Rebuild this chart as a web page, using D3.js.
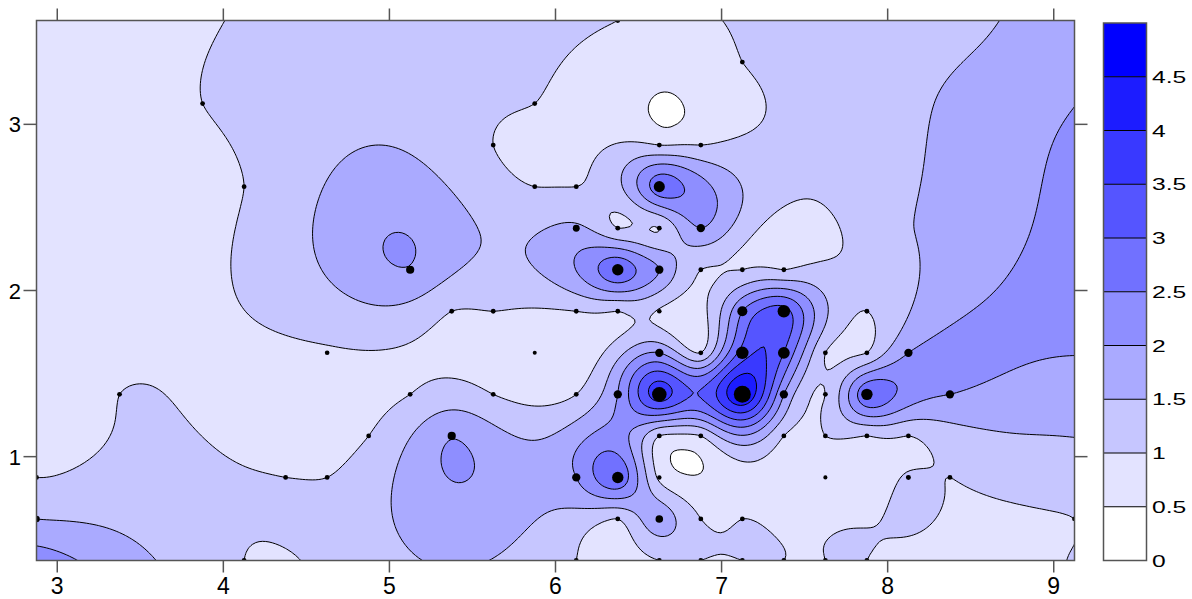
<!DOCTYPE html>
<html><head><meta charset="utf-8">
<script src="https://cdn.jsdelivr.net/npm/d3@7"></script>
<style>body{margin:0;background:#fff}svg{display:block}text{font-family:"Liberation Sans",Arial,sans-serif;fill:#000}</style>
</head><body><svg id="c" width="1192" height="599"></svg>
<script>
// sample point positions and values (drawn as dots)
const ptX = [6.375,
 7.125,
 3.875,5.875,
 5.625,6.625,6.875,
 4.125,5.875,6.125,6.625,
 6.125,6.375,6.625,6.875,
 5.125,6.375,6.625,6.875,7.125,7.375,
 5.375,5.625,6.125,6.375,6.625,7.125,7.375,7.875,
 4.625,5.875,6.625,6.875,7.125,7.375,7.625,7.875,8.125,
 3.375,5.125,5.625,6.125,6.375,6.625,7.125,7.375,7.625,7.875,8.375,
 4.875,5.375,6.625,6.875,7.375,7.625,7.875,8.125,
 2.875,4.375,4.625,6.125,6.375,6.625,7.625,8.125,8.375,
 2.875,6.375,6.625,6.875,7.125,9.125,
 4.125,6.125,6.625,6.875,7.125,7.375,7.625,7.875];
const ptY = [3.625,
 3.375,
 3.125,3.125,
 2.875,2.875,2.875,
 2.625,2.625,2.625,2.625,
 2.375,2.375,2.375,2.375,
 2.125,2.125,2.125,2.125,2.125,2.125,
 1.875,1.875,1.875,1.875,1.875,1.875,1.875,1.875,
 1.625,1.625,1.625,1.625,1.625,1.625,1.625,1.625,1.625,
 1.375,1.375,1.375,1.375,1.375,1.375,1.375,1.375,1.375,1.375,1.375,
 1.125,1.125,1.125,1.125,1.125,1.125,1.125,1.125,
 0.875,0.875,0.875,0.875,0.875,0.875,0.875,0.875,0.875,
 0.625,0.625,0.625,0.625,0.625,0.625,
 0.375,0.375,0.375,0.375,0.375,0.375,0.375,0.375];
const ptV = [1.0,
 1.0,
 1.0,1.0,
 1.0,1.0,1.0,
 1.0,1.0,1.0,2.8,
 1.6,1.0,1.0,2.0,
 1.97,2.9,2.0,1.0,1.0,1.0,
 1.0,1.0,1.0,1.0,0.95,2.5,3.2,1.0,
 0.95,0.58,2.0,1.0,3.2,3.0,1.0,1.0,2.0,
 1.0,1.0,1.0,1.0,2.0,3.8,4.5,2.0,1.0,2.9,2.0,
 1.0,1.97,1.0,1.0,1.0,1.0,1.0,1.0,
 1.0,1.0,1.0,2.0,2.9,0.9,0.8,1.05,1.0,
 1.5,1.0,1.8,1.0,1.0,1.0,
 1.0,1.0,1.0,1.0,1.0,1.0,1.0,1.0];
// surface values in areas without sample dots (not drawn)
const ctlX = [7.5, 8.0, 8.5, 9.125, 9.125, 9.125, 9.125, 8.625, 8.375, 7.625, 7.875, 8.125, 7.5, 7.79, 8.75, 9.125, 8.75, 3.375, 2.875,
              4.25, 4.375, 4.25, 6.66, 6.45, 6.87, 6.66, 6.66, 7.375, 7.875, 9.125, 6.77, 7.75];
const ctlY = [3.625,3.625,3.625,3.625, 2.875, 2.125, 1.375, 2.375, 3.125, 2.875, 3.375, 2.375, 2.35, 1.71, 0.5, 0.375, 1.0, 3.625, 0.375,
              3.625, 0.625, 0.375, 3.13, 3.15, 3.12, 3.34, 2.93, 2.625, 2.25, 1.0, 0.99, 0.39];
const ctlV = [1.12, 1.3, 1.42, 1.75, 2.1, 2.3, 1.75, 1.75, 1.55, 1.12, 1.28, 1.47, 0.85, 0.88, 0.9, 1.02, 1.3, 0.85, 2.25,
              1.05, 1.15, 0.9, 0.46, 0.62, 0.62, 0.62, 0.65, 1.1, 1.12, 1.38, 0.44, 1.08];

const levels = [0.5,1,1.5,2,2.5,3,3.5,4,4.5];
const barBins = [0,0.5,1,1.5,2,2.5,3,3.5,4,4.5];
const barLabels = ["0","0.5","1","1.5","2","2.5","3","3.5","4","4.5"];
const xTicks = [3,4,5,6,7,8,9];
const yTicks = [1,2,3];

const svg = d3.select("#c");
const L=36.5,R=1074.5,T=20.5,B=560.5;
const sx = d3.scaleLinear().domain([2.875,9.125]).range([L,R]);
const sy = d3.scaleLinear().domain([0.375,3.625]).range([B,T]);
const binColor = i => { const c = Math.round(255 - 255*i/9); return `rgb(${c},${c},255)`; };
const levelColor = v => binColor(Math.round(v/0.5));

// thin plate spline through all known values
const fx = ptX.concat(ctlX), fy = ptY.concat(ctlY), fv = ptV.concat(ctlV);
const N = fx.length, M = N+3;
const U = r2 => r2 > 0 ? 0.5*r2*Math.log(r2) : 0;
const A = [], bvec = [];
for (let i=0;i<M;i++){ A.push(new Array(M).fill(0)); bvec.push(i<N?fv[i]:0); }
for (let i=0;i<N;i++){
  for (let j=0;j<N;j++){ const dx=fx[i]-fx[j], dy=fy[i]-fy[j]; A[i][j]=U(dx*dx+dy*dy); }
  A[i][N]=1; A[i][N+1]=fx[i]; A[i][N+2]=fy[i];
  A[N][i]=1; A[N+1][i]=fx[i]; A[N+2][i]=fy[i];
}
function solve(A,b){const n=b.length;for(let k=0;k<n;k++){let p=k;for(let i=k+1;i<n;i++)if(Math.abs(A[i][k])>Math.abs(A[p][k]))p=i;[A[k],A[p]]=[A[p],A[k]];[b[k],b[p]]=[b[p],b[k]];for(let i=k+1;i<n;i++){const f=A[i][k]/A[k][k];if(!f)continue;for(let j=k;j<n;j++)A[i][j]-=f*A[k][j];b[i]-=f*b[k];}}const x=new Array(n);for(let i=n-1;i>=0;i--){let s=b[i];for(let j=i+1;j<n;j++)s-=A[i][j]*x[j];x[i]=s/A[i][i];}return x;}
const w = solve(A,bvec);
function tps(x,y){ let s=w[N]+w[N+1]*x+w[N+2]*y; for(let i=0;i<N;i++){const dx=x-fx[i],dy=y-fy[i];s+=w[i]*U(dx*dx+dy*dy);} return s; }

const step = 0.02, gx0 = 2.875-0.06, gy0 = 3.625+0.06;
const nx = Math.ceil((6.25+0.12)/step)+1, ny = Math.ceil((3.25+0.12)/step)+1;
const grid = new Float64Array(nx*ny);
for (let j=0;j<ny;j++) for (let i=0;i<nx;i++) grid[j*nx+i] = tps(gx0+i*step, gy0-j*step);

const proj = d3.geoTransform({point(x,y){ this.stream.point(sx(gx0+(x-0.5)*step), sy(gy0-(y-0.5)*step)); }});
const path = d3.geoPath(proj);
const contours = d3.contours().size([nx,ny]).thresholds(levels)(grid);

svg.append("defs").append("clipPath").attr("id","clip").append("rect")
  .attr("x",L).attr("y",T).attr("width",R-L).attr("height",B-T);
const plot = svg.append("g").attr("clip-path","url(#clip)");
plot.append("rect").attr("x",L).attr("y",T).attr("width",R-L).attr("height",B-T).attr("fill","#fff");
plot.selectAll("path.f").data(contours).join("path").attr("class","f")
  .attr("d",path).attr("fill",d=>levelColor(d.value)).attr("stroke","none");
plot.selectAll("path.l").data(contours).join("path").attr("class","l")
  .attr("d",path).attr("fill","none").attr("stroke","#000").attr("stroke-width",1);

const rScale = d3.scaleLinear().domain([1,4.5]).range([2.4,8.5]);
plot.selectAll("circle").data(ptX.map((x,i)=>i)).join("circle")
  .attr("cx",i=>sx(ptX[i])).attr("cy",i=>sy(ptY[i])).attr("r",i=>Math.max(2,rScale(ptV[i]))).attr("fill","#000");

// frame & ticks
const ax = svg.append("g").attr("stroke","#555").attr("stroke-width",1.5).attr("fill","none");
ax.append("rect").attr("x",L).attr("y",T).attr("width",R-L).attr("height",B-T);
xTicks.forEach(t=>{
  ax.append("line").attr("x1",sx(t)).attr("x2",sx(t)).attr("y1",B).attr("y2",B+12);
  ax.append("line").attr("x1",sx(t)).attr("x2",sx(t)).attr("y1",T).attr("y2",T-12);
});
yTicks.forEach(t=>{
  ax.append("line").attr("y1",sy(t)).attr("y2",sy(t)).attr("x1",L).attr("x2",L-13);
  ax.append("line").attr("y1",sy(t)).attr("y2",sy(t)).attr("x1",R).attr("x2",R+13);
});
svg.append("g").selectAll("text").data(xTicks).join("text")
  .attr("x",d=>sx(d)).attr("y",594).attr("text-anchor","middle").attr("font-size",23).text(d=>d);
svg.append("g").selectAll("text").data(yTicks).join("text")
  .attr("x",21).attr("y",d=>sy(d)+8).attr("text-anchor","end").attr("font-size",22).text(d=>d);

// colour bar
const cb = d3.scaleLinear().domain([0,5]).range([560.5,23]);
const CX=1103.5, CW=43;
svg.append("g").selectAll("rect").data(barBins).join("rect")
  .attr("x",CX).attr("width",CW).attr("y",d=>cb(d+0.5)).attr("height",d=>cb(d)-cb(d+0.5))
  .attr("fill",(d,i)=>binColor(i));
svg.append("g").selectAll("line").data(levels).join("line")
  .attr("x1",CX).attr("x2",CX+CW).attr("y1",d=>cb(d)).attr("y2",d=>cb(d)).attr("stroke","#000").attr("stroke-width",1.2);
svg.append("rect").attr("x",CX).attr("y",cb(5)).attr("width",CW).attr("height",cb(0)-cb(5))
  .attr("fill","none").attr("stroke","#555").attr("stroke-width",1.5);
svg.append("g").selectAll("text").data(barBins).join("text")
  .attr("transform",(d)=>`translate(1152,${cb(d)+6}) scale(1.45,1)`)
  .attr("font-size",17).text((d,i)=>barLabels[i]);
</script></body></html>
